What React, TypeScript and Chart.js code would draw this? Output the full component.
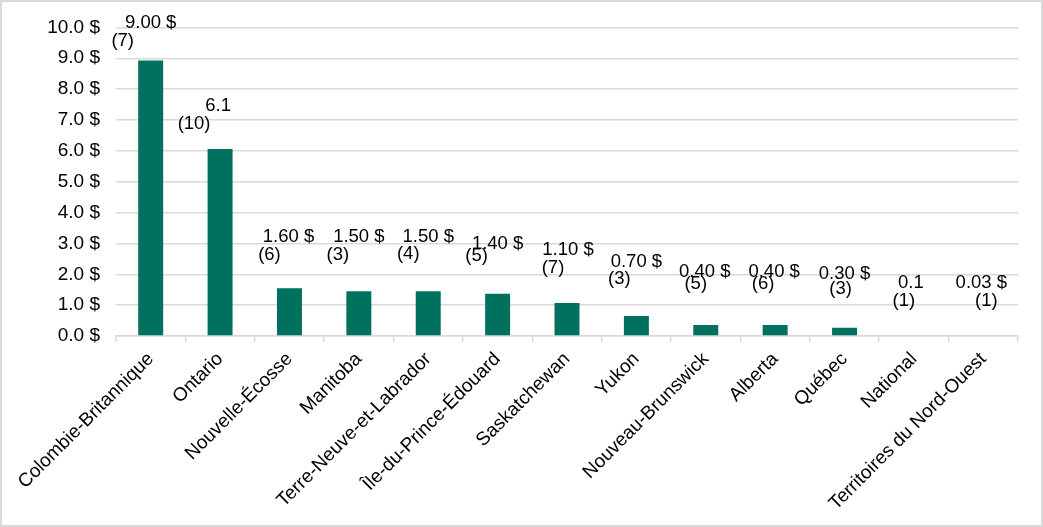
import React, { useEffect, useRef } from "react";
import { Chart, registerables } from "chart.js";

Chart.register(...registerables);

const categories = [
  "Colombie-Britannique",
  "Ontario",
  "Nouvelle-Écosse",
  "Manitoba",
  "Terre-Neuve-et-Labrador",
  "Île-du-Prince-Édouard",
  "Saskatchewan",
  "Yukon",
  "Nouveau-Brunswick",
  "Alberta",
  "Québec",
  "National",
  "Territoires du Nord-Ouest",
];
const barValues = [8.93, 6.06, 1.55, 1.45, 1.45, 1.37, 1.07, 0.65, 0.36, 0.36, 0.27, 0, 0];
const valueLabels = ["9.00 $", "6.1", "1.60 $", "1.50 $", "1.50 $", "1.40 $", "1.10 $", "0.70 $", "0.40 $", "0.40 $", "0.30 $", "0.1", "0.03 $"];
const counts = [7, 10, 6, 3, 4, 5, 7, 3, 5, 6, 3, 1, 1];
const yTicks = [0, 1, 2, 3, 4, 5, 6, 7, 8, 9, 10];

// label layout (where the text boxes sit, in value units / pixel offsets)
const valueLabelLevel = [10.13, 7.44, 3.2, 3.2, 3.2, 2.98, 2.79, 2.4, 2.08, 2.08, 2.02, 1.73, 1.73];
const valueLabelDx = [0, -2, -1, 0, 0, 0, 1, 0, -1, -1, 0, -3, -2];
const countLabelDx = [-28, -26, -20, -21, -20, -21, -14, -17, -10, -12, -4, -10, 3];
const countLabelDy = [18, 18, 18, 18, 17, 12, 18, 17, 12, 12, 15, 18, 18];

const FONT = "'Liberation Sans', Arial, sans-serif";

const labelPlugin = {
  id: "barLabels",
  afterDatasetsDraw(chart: any) {
    const ctx = chart.ctx;
    const meta = chart.getDatasetMeta(0);
    const y = chart.scales.y;
    ctx.save();
    ctx.fillStyle = "#000";
    ctx.font = `18.5px ${FONT}`;
    ctx.textAlign = "center";
    ctx.textBaseline = "middle";
    meta.data.forEach((bar: any, i: number) => {
      const ly = y.getPixelForValue(valueLabelLevel[i]);
      ctx.fillText(valueLabels[i], bar.x + valueLabelDx[i], ly);
      ctx.fillText(`(${counts[i]})`, bar.x + countLabelDx[i], ly + countLabelDy[i]);
    });
    ctx.restore();
  },
};

export default function App() {
  const ref = useRef<HTMLCanvasElement | null>(null);
  useEffect(() => {
    if (!ref.current) return;
    const chart = new Chart(ref.current, {
      type: "bar",
      data: {
        labels: categories,
        datasets: [
          {
            data: barValues,
            backgroundColor: "#00715F",
            categoryPercentage: 1,
            barPercentage: 0.36,
          },
        ],
      },
      options: {
        animation: false,
        responsive: false,
        maintainAspectRatio: false,
        layout: { padding: { left: 0, right: 25, top: 24, bottom: 0 } },
        plugins: { legend: { display: false }, tooltip: { enabled: false } },
        scales: {
          x: {
            grid: {
              display: true,
              offset: true,
              drawOnChartArea: false,
              drawTicks: true,
              tickLength: 6,
              color: "#d9d9d9",
              lineWidth: 1.5,
            },
            border: { color: "#d9d9d9", width: 1.5 },
            ticks: {
              color: "#000",
              font: { family: FONT, size: 19 },
              minRotation: 45,
              maxRotation: 45,
              autoSkip: false,
              padding: 6,
            },
            afterFit: (s: any) => {
              s.height = 191;
            },
          },
          y: {
            min: 0,
            max: 10,
            afterBuildTicks: (s: any) => {
              s.ticks = yTicks.map((v) => ({ value: v }));
            },
            grid: { color: "#d9d9d9", lineWidth: 1.5, drawTicks: false },
            border: { display: false },
            ticks: {
              color: "#000",
              font: { family: FONT, size: 19 },
              padding: 16,
              callback: (v: any) => Number(v).toFixed(1) + " $",
            },
            afterFit: (s: any) => {
              s.width = 116;
            },
          },
        },
      },
      plugins: [labelPlugin],
    });
    return () => chart.destroy();
  }, []);
  return (
    <div style={{ position: "absolute", left: 0, top: 0, width: 1043, height: 527, background: "#fff" }}>
      <canvas ref={ref} width={1043} height={527} style={{ display: "block", position: "absolute", left: 0, top: 0 }} />
      <div
        style={{
          position: "absolute",
          left: 0,
          top: 0,
          width: 1043,
          height: 527,
          boxSizing: "border-box",
          border: "2px solid #d9d9d9",
          pointerEvents: "none",
        }}
      />
    </div>
  );
}
